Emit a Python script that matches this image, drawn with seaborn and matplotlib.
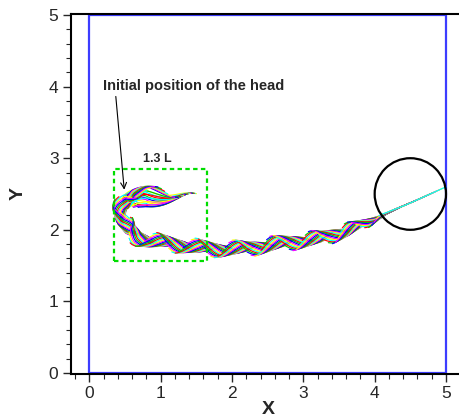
import numpy as np
import pandas as pd
import matplotlib
matplotlib.use('Agg')
import matplotlib.pyplot as plt
from matplotlib.patches import Rectangle, Circle
from matplotlib.ticker import MultipleLocator
import seaborn as sns

# centre line of the swimming path
# (starts at the initial tail position, passes the initial head, turns in a C and swims right)
path_x = [1.50, 1.25, 1.00, 0.80, 0.62, 0.50, 0.45, 0.47, 0.55, 0.68, 0.85, 1.05,
          1.27, 1.55, 1.83, 2.20, 2.53, 2.90, 3.24, 3.61, 3.89, 4.17, 4.60, 5.00]
path_y = [2.48, 2.50, 2.53, 2.55, 2.52, 2.45, 2.30, 2.13, 1.99, 1.90, 1.85, 1.82,
          1.79, 1.75, 1.73, 1.74, 1.79, 1.84, 1.88, 1.99, 2.10, 2.23, 2.42, 2.60]
# half width of the band of midline snapshots along the path
band_half = [0.02, 0.04, 0.05, 0.06, 0.08, 0.10, 0.11, 0.11, 0.11, 0.11, 0.10, 0.10,
             0.10, 0.10, 0.10, 0.10, 0.10, 0.10, 0.10, 0.09, 0.06, 0.01, 0.0, 0.0]
# C-start: body bend (hump height) of the first frames, head almost in place
cstart_bend = [0.0, 0.03, 0.06, 0.09, 0.12, 0.15, 0.18, 0.21, 0.24, 0.26, 0.27,
               0.25, 0.21, 0.16, 0.11, 0.06]
head_index = 5          # path point where the head starts
n_swim = 100            # midline snapshots while swimming
stride = 0.55           # distance swum per tail beat
body_wave = 0.9         # wave length along the body
snap_colors = ['#ff0000', '#00c800', '#0000ff', '#ff00ff', '#ffff00', '#00ffff']

tank = (0.0, 0.0, 5.0, 5.0)
box = (0.35, 1.56, 1.3, 1.29)
target_xy = (4.5, 2.5)
target_r = 0.5

# arc length along the centre line
px = np.array(path_x)
py = np.array(path_y)
u_pts = np.concatenate([[0], np.cumsum(np.hypot(np.diff(px), np.diff(py)))])
u_head0 = u_pts[head_index]
u_end = u_pts[-1]
body_len = u_head0

n_c = len(cstart_bend)
heads = list(u_head0 + 0.015 * np.arange(n_c)) + list(np.linspace(u_head0 + 0.25, u_end, n_swim))
bends = cstart_bend + [0.0] * n_swim
n_snap = len(heads)

rows = []
for j, (u_h, bend) in enumerate(zip(heads, bends)):
    b = np.linspace(0, body_len, 40)       # distance from the head
    u = u_h - b
    cx = np.interp(u, u_pts, px)
    cy = np.interp(u, u_pts, py)
    tx = np.gradient(cx)
    ty = np.gradient(cy)
    nrm = np.hypot(tx, ty)
    nx, ny = -ty / nrm, tx / nrm
    w = np.interp(u, u_pts, band_half) * (0.45 + 0.8 * b / body_len)
    off = w * np.sin(2 * np.pi * (b / body_wave - u_h / stride))
    off = off - bend * np.sin(np.pi * (b / body_len) ** 0.7) ** 1.5
    name = f's{j:03d}'
    for xx, yy in zip(cx + off * nx, cy + off * ny):
        rows.append((name, xx, yy))
snaps = pd.DataFrame(rows, columns=['snap', 'x', 'y'])
order = [f's{j:03d}' for j in range(n_snap)]
palette = [snap_colors[(j - n_snap) % len(snap_colors)] for j in range(n_snap)]

sns.set_style('ticks')
plt.rcParams['font.family'] = ['Liberation Sans', 'DejaVu Sans']

fig = plt.figure(figsize=(4.6, 4.18), dpi=100)
ax = fig.add_axes([71 / 460, 44 / 418, 395 / 460, 360 / 418])

ax.add_patch(Rectangle(tank[:2], tank[2], tank[3], fill=False, ec='#3c3cff', lw=1.6, zorder=1))

sns.lineplot(data=snaps, x='x', y='y', hue='snap', hue_order=order, palette=palette,
             sort=False, estimator=None, lw=0.85, legend=False, ax=ax, zorder=3)

ax.add_patch(Circle(target_xy, target_r, fill=False, ec='black', lw=1.6, zorder=4))
ax.add_patch(Rectangle(box[:2], box[2], box[3], fill=False, ec='#00dd00', lw=1.6,
                       ls=(0, (2, 1.5)), zorder=4))

ax.text(0.96, 2.99, '1.3 L', fontsize=9, fontweight='bold', ha='center', va='center')
ax.annotate('Initial position of the head', xy=(0.49, 2.56), xytext=(0.19, 3.95),
            fontsize=10.5, fontweight='bold', ha='left', va='baseline',
            arrowprops=dict(arrowstyle='->', lw=0.8, color='black', shrinkA=0, shrinkB=0,
                            relpos=(0.07, 0.0)))

ax.set_xlim(-0.256, 5.28)
ax.set_ylim(-0.014, 5.014)
ax.set_xticks(range(6))
ax.set_yticks(range(6))
ax.xaxis.set_minor_locator(MultipleLocator(0.2))
ax.yaxis.set_minor_locator(MultipleLocator(0.2))
ax.tick_params(which='major', direction='out', length=6, width=1.0, labelsize=12.5, pad=3)
ax.tick_params(which='minor', direction='out', length=3.5, width=0.8)
for side in ['left', 'bottom', 'top']:
    ax.spines[side].set_linewidth(1.5)
    ax.spines[side].set_color('black')
ax.spines['right'].set_visible(False)

ax.set_xlabel('X', fontsize=14, fontweight='bold')
ax.set_ylabel('Y', fontsize=14, fontweight='bold')
ax.xaxis.set_label_coords(0.5, -0.076)
ax.yaxis.set_label_coords(-0.111, 0.5)

fig.savefig('out.png', dpi=100)
